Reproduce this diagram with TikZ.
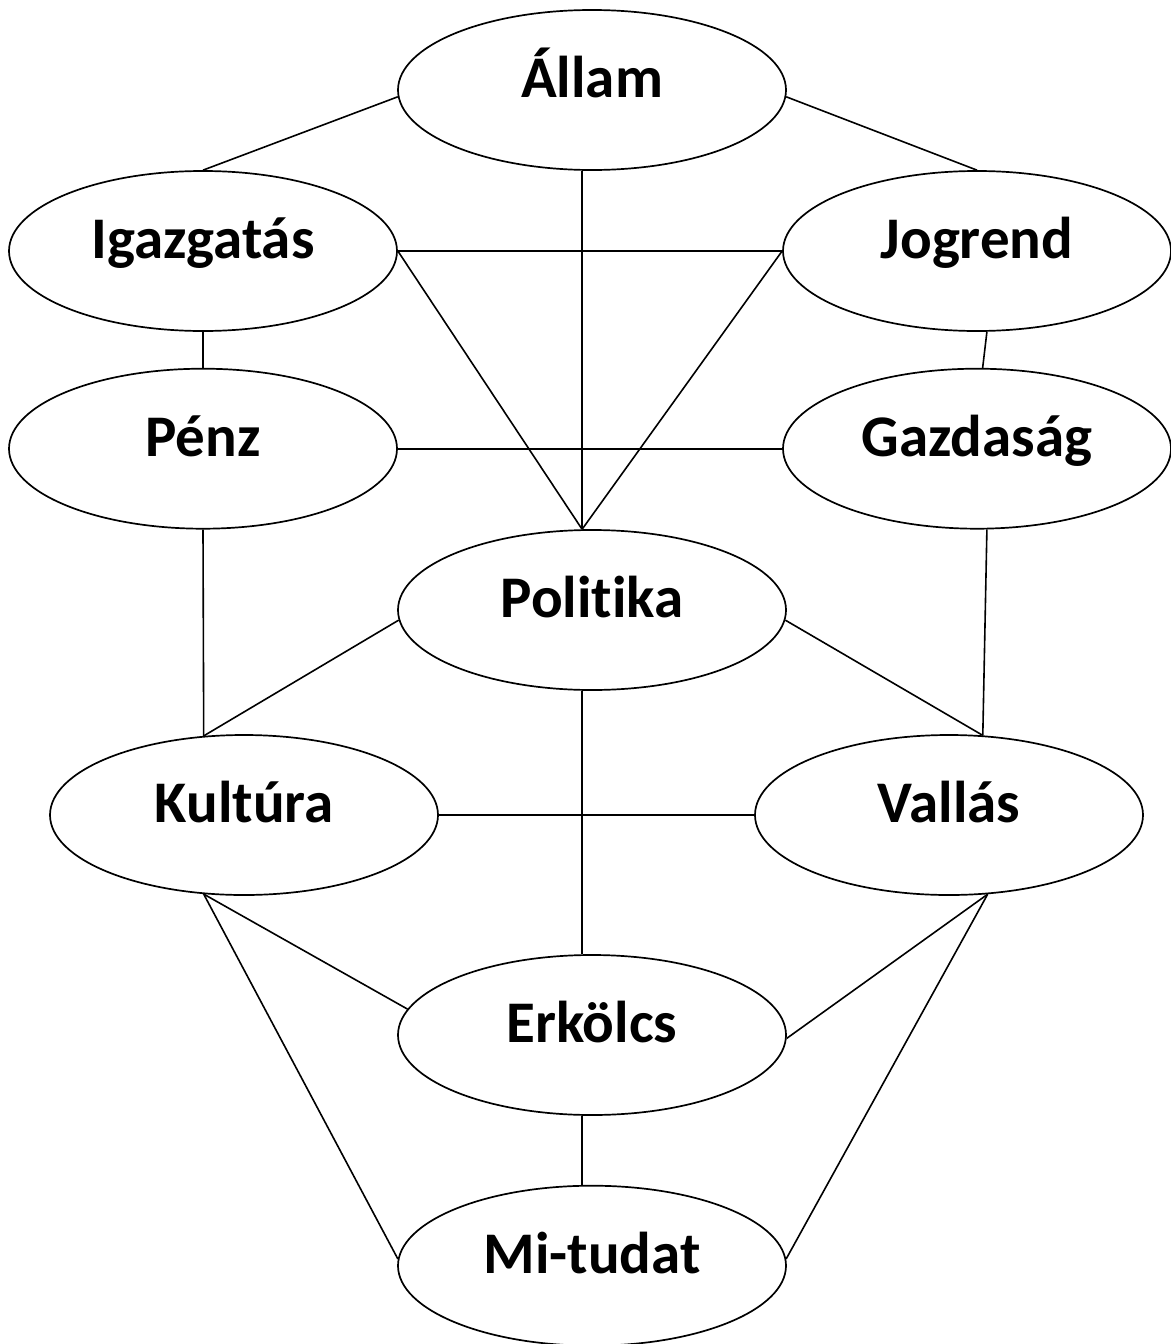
\documentclass[tikz,border=0pt]{standalone}
\usepackage{fontspec}
\setmainfont{Carlito}[Ligatures={NoCommon}]
\usetikzlibrary{positioning, shapes.geometric}

\begin{document}
\begin{tikzpicture}[
    x=1pt, y=1pt,
    blob/.style={ellipse, draw, line width=1.7pt, minimum width=388pt, minimum height=160pt,
        inner sep=0pt, font=\fontsize{59}{62}\selectfont\bfseries, text height=15pt, text depth=0pt},
    link/.style={line width=1.6pt},
    node distance=36pt and 0pt
]
\useasboundingbox (0,0) rectangle (1170,-1344);

% --- Top: state and its pillars ---
\node[blob] (allam) at (592,-90) {Állam};
\node[blob] (igaz) at (203,-251) {Igazgatás};
\node[blob] (jog) at (977,-251) {Jogrend};
\node[blob, below=of igaz] (penz) {Pénz};
\node[blob, below=of jog] (gazd) {Gazdaság};

% --- Middle ---
\node[blob] (pol) at (592,-610) {Politika};
\node[blob] (kult) at (244,-815) {Kultúra};
\node[blob] (vall) at (949,-815) {Vallás};

% --- Bottom ---
\node[blob] (erk) at (592,-1035) {Erkölcs};
\node[blob, below=69pt of erk] (mi) {Mi-tudat};

% --- Links ---
\draw[link] (allam.182) -- (igaz.north);
\draw[link] (allam.358) -- (jog.north);
\draw[link] (allam.263) -- (pol.97);
\draw[link] (igaz.east) -- (jog.west);
\draw[link] (igaz.east) -- (pol.97);
\draw[link] (jog.west) -- (pol.97);
\draw[link] (igaz.south) -- (penz.north);
\draw[link] (jog.277) -- (gazd.86);
\draw[link] (penz.east) -- (gazd.west);
\draw[link] (penz.south) -- (kult.117);
\draw[link] (pol.183) -- (kult.117);
\draw[link] (pol.357) -- (vall.67);
\draw[link] (gazd.277) -- (vall.67);
\draw[link] (kult.east) -- (vall.west);
\draw[link] (pol.263) -- (erk.97);
\draw[link] (kult.243) -- (erk.172);
\draw[link] (kult.243) -- (mi.178);
\draw[link] (vall.296) -- (erk.359);
\draw[link] (vall.296) -- (mi.2);
\draw[link] (erk.263) -- (mi.97);

\end{tikzpicture}
\end{document}
